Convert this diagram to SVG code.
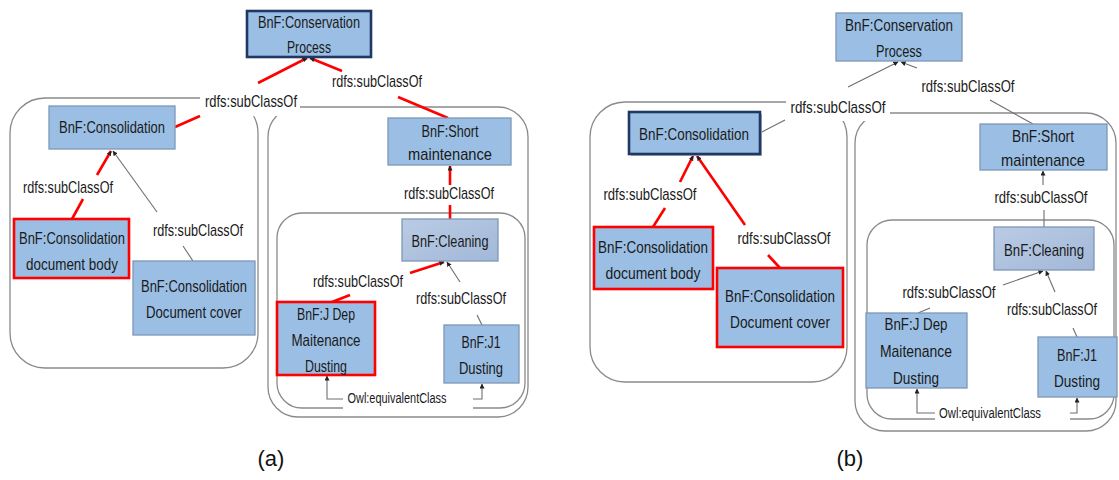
<svg xmlns="http://www.w3.org/2000/svg" width="1119" height="480" viewBox="0 0 1119 480">
<style>
.box{fill:#9BBFE4;stroke:#7F97B6;stroke-width:1.3}
.clean{fill:url(#cg);stroke:#7F97B6;stroke-width:1.3}
.hl{stroke:#FF0000;stroke-width:2.6}
.navy{stroke:#1F3864;stroke-width:2.6}
.t{font-family:"Liberation Sans",Arial,sans-serif;font-size:17px;fill:#1A1A1A;text-anchor:middle}
.s{font-size:14px}
.cap{font-family:"Liberation Sans",Arial,sans-serif;font-size:22px;fill:#111;text-anchor:middle}
.cont{fill:none;stroke:#8A8A8A;stroke-width:1.3}
.g{fill:none;stroke:#6E6E6E;stroke-width:1.1}
.r{fill:none;stroke:#FF0000;stroke-width:2.6}
.bg{fill:#FFFFFF}
</style>
<defs>
<linearGradient id="cg" x1="0" y1="0" x2="1" y2="1">
<stop offset="0" stop-color="#BACBE4"/>
<stop offset="1" stop-color="#A2B8D8"/>
</linearGradient>
<marker id="ah" viewBox="0 0 6 6" refX="5.5" refY="3" markerWidth="5" markerHeight="5" markerUnits="userSpaceOnUse" orient="auto">
<path d="M0,0 L6,3 L0,6 z" fill="#222"/>
</marker>
</defs>
<rect width="1119" height="480" fill="#FFFFFF"/>

<g id="containers">
<rect class="cont" x="10" y="98" width="248" height="270" rx="35"/>
<rect class="cont" x="268" y="107" width="260" height="310" rx="30"/>
<rect class="cont" x="277" y="213" width="248" height="195" rx="25"/>
<rect class="cont" x="590" y="102" width="257" height="280" rx="35"/>
<rect class="cont" x="855" y="113" width="261" height="318" rx="30"/>
<rect class="cont" x="867" y="220" width="247" height="199" rx="25"/>
<rect class="bg" x="200" y="88" width="100" height="28"/>
<rect class="bg" x="343" y="389" width="130" height="22"/>
<rect class="bg" x="786" y="94" width="104" height="27"/>
<rect class="bg" x="935" y="403" width="135" height="22"/>
</g>

<g id="connectors">
<line class="r" x1="258" y1="83" x2="307" y2="58" marker-end="url(#ah)"/>
<line class="r" x1="342" y1="71" x2="310" y2="58" marker-end="url(#ah)"/>
<line class="r" x1="398" y1="97" x2="448" y2="118"/>
<line class="r" x1="200" y1="116" x2="175" y2="127"/>
<line class="r" x1="97" y1="175" x2="111" y2="151" marker-end="url(#ah)"/>
<line class="r" x1="83" y1="199" x2="72" y2="219"/>
<line class="g" x1="157" y1="212" x2="113" y2="151" marker-end="url(#ah)"/>
<line class="g" x1="183" y1="246" x2="193" y2="261"/>
<line class="r" x1="450" y1="185" x2="450" y2="166" marker-end="url(#ah)"/>
<line class="r" x1="450" y1="205" x2="450" y2="219"/>
<line class="r" x1="410" y1="273" x2="444" y2="262" marker-end="url(#ah)"/>
<line class="r" x1="350" y1="295" x2="332" y2="302"/>
<line class="g" x1="460" y1="282" x2="447" y2="262" marker-end="url(#ah)"/>
<line class="g" x1="477" y1="315" x2="482" y2="325"/>
<polyline class="g" points="343,399 327,399 327,376" marker-end="url(#ah)"/>
<polyline class="g" points="473,399 482,399 482,384" marker-end="url(#ah)"/>

<line class="g" x1="848" y1="87" x2="898" y2="62" marker-end="url(#ah)"/>
<line class="g" x1="917" y1="68" x2="901" y2="62" marker-end="url(#ah)"/>
<line class="g" x1="990" y1="100" x2="1033" y2="124"/>
<line class="g" x1="785" y1="120" x2="760" y2="133"/>
<line class="r" x1="680" y1="182" x2="693" y2="156" marker-end="url(#ah)"/>
<line class="r" x1="745" y1="225" x2="697" y2="156" marker-end="url(#ah)"/>
<line class="r" x1="665" y1="208" x2="653" y2="227"/>
<line class="r" x1="768" y1="255" x2="780" y2="268"/>
<line class="g" x1="1043" y1="185" x2="1043" y2="171" marker-end="url(#ah)"/>
<line class="g" x1="1044" y1="210" x2="1044" y2="227"/>
<line class="g" x1="1003" y1="285" x2="1043" y2="271" marker-end="url(#ah)"/>
<line class="g" x1="930" y1="308" x2="918" y2="313"/>
<line class="g" x1="1055" y1="292" x2="1046" y2="271" marker-end="url(#ah)"/>
<line class="g" x1="1073" y1="328" x2="1077" y2="337"/>
<polyline class="g" points="935,413 917,413 917,389" marker-end="url(#ah)"/>
<polyline class="g" points="1070,413 1077,413 1077,398" marker-end="url(#ah)"/>
</g>

<g id="labels">
<text class="t" x="251" y="107" textLength="92" lengthAdjust="spacingAndGlyphs">rdfs:subClassOf</text>
<text class="t" x="377" y="87" textLength="90" lengthAdjust="spacingAndGlyphs">rdfs:subClassOf</text>
<text class="t" x="68" y="193" textLength="90" lengthAdjust="spacingAndGlyphs">rdfs:subClassOf</text>
<text class="t" x="198" y="236" textLength="90" lengthAdjust="spacingAndGlyphs">rdfs:subClassOf</text>
<text class="t" x="449" y="199" textLength="90" lengthAdjust="spacingAndGlyphs">rdfs:subClassOf</text>
<text class="t" x="358" y="287" textLength="90" lengthAdjust="spacingAndGlyphs">rdfs:subClassOf</text>
<text class="t" x="461" y="304" textLength="90" lengthAdjust="spacingAndGlyphs">rdfs:subClassOf</text>
<text class="t s" x="397" y="403" textLength="99" lengthAdjust="spacingAndGlyphs">Owl:equivalentClass</text>

<text class="t" x="838" y="113" textLength="95" lengthAdjust="spacingAndGlyphs">rdfs:subClassOf</text>
<text class="t" x="968" y="92" textLength="93" lengthAdjust="spacingAndGlyphs">rdfs:subClassOf</text>
<text class="t" x="650" y="200" textLength="93" lengthAdjust="spacingAndGlyphs">rdfs:subClassOf</text>
<text class="t" x="784" y="244" textLength="93" lengthAdjust="spacingAndGlyphs">rdfs:subClassOf</text>
<text class="t" x="1041" y="203" textLength="93" lengthAdjust="spacingAndGlyphs">rdfs:subClassOf</text>
<text class="t" x="949" y="298" textLength="93" lengthAdjust="spacingAndGlyphs">rdfs:subClassOf</text>
<text class="t" x="1052" y="315" font-size="16" textLength="90" lengthAdjust="spacingAndGlyphs">rdfs:subClassOf</text>
<text class="t s" x="990" y="418" textLength="102" lengthAdjust="spacingAndGlyphs">Owl:equivalentClass</text>
</g>

<g id="a-conservation"><rect class="box navy" x="247" y="11" width="124" height="46"/><text class="t" x="309" y="28" textLength="102" lengthAdjust="spacingAndGlyphs">BnF:Conservation</text><text class="t" x="309" y="53" textLength="44" lengthAdjust="spacingAndGlyphs">Process</text></g>
<g id="a-consolidation"><rect class="box" x="49" y="106" width="126" height="43"/><text class="t" x="112" y="133" textLength="106" lengthAdjust="spacingAndGlyphs">BnF:Consolidation</text></g>
<g id="a-docbody"><rect class="box hl" x="14" y="219" width="115" height="59"/><text class="t" x="72" y="244" textLength="106" lengthAdjust="spacingAndGlyphs">BnF:Consolidation</text><text class="t" x="72" y="270" textLength="92" lengthAdjust="spacingAndGlyphs">document body</text></g>
<g id="a-doccover"><rect class="box" x="133" y="261" width="122" height="74"/><text class="t" x="194" y="292" textLength="106" lengthAdjust="spacingAndGlyphs">BnF:Consolidation</text><text class="t" x="194" y="318" textLength="96" lengthAdjust="spacingAndGlyphs">Document cover</text></g>
<g id="a-short"><rect class="box" x="388" y="118" width="123" height="47"/><text class="t" x="450" y="137" textLength="57" lengthAdjust="spacingAndGlyphs">BnF:Short</text><text class="t" x="450" y="160" textLength="84" lengthAdjust="spacingAndGlyphs">maintenance</text></g>
<g id="a-cleaning"><rect class="clean" x="402" y="219" width="96" height="42"/><text class="t" x="450" y="247" textLength="77" lengthAdjust="spacingAndGlyphs">BnF:Cleaning</text></g>
<g id="a-jdep"><rect class="box hl" x="277" y="302" width="98" height="73"/><text class="t" x="326" y="320" textLength="58" lengthAdjust="spacingAndGlyphs">BnF:J Dep</text><text class="t" x="326" y="346" textLength="69" lengthAdjust="spacingAndGlyphs">Maitenance</text><text class="t" x="326" y="372" textLength="42" lengthAdjust="spacingAndGlyphs">Dusting</text></g>
<g id="a-j1"><rect class="box" x="444" y="325" width="75" height="58"/><text class="t" x="481" y="348" textLength="39" lengthAdjust="spacingAndGlyphs">BnF:J1</text><text class="t" x="481" y="374" textLength="44" lengthAdjust="spacingAndGlyphs">Dusting</text></g>

<g id="b-conservation"><rect class="box" x="836" y="13" width="126" height="48"/><text class="t" x="899" y="31" textLength="108" lengthAdjust="spacingAndGlyphs">BnF:Conservation</text><text class="t" x="899" y="57" textLength="46" lengthAdjust="spacingAndGlyphs">Process</text></g>
<g id="b-consolidation"><rect x="631" y="114" width="131" height="42" fill="#B0B7C2"/><rect class="box navy" x="629" y="112" width="131" height="42"/><text class="t" x="694" y="140" textLength="110" lengthAdjust="spacingAndGlyphs">BnF:Consolidation</text></g>
<g id="b-docbody"><rect class="box hl" x="594" y="227" width="119" height="62"/><text class="t" x="653" y="253" textLength="110" lengthAdjust="spacingAndGlyphs">BnF:Consolidation</text><text class="t" x="653" y="279" textLength="95" lengthAdjust="spacingAndGlyphs">document body</text></g>
<g id="b-doccover"><rect class="box hl" x="717" y="268" width="126" height="79"/><text class="t" x="780" y="302" textLength="110" lengthAdjust="spacingAndGlyphs">BnF:Consolidation</text><text class="t" x="780" y="328" textLength="100" lengthAdjust="spacingAndGlyphs">Document cover</text></g>
<g id="b-short"><rect class="box" x="980" y="124" width="127" height="46"/><text class="t" x="1043" y="142" textLength="62" lengthAdjust="spacingAndGlyphs">BnF:Short</text><text class="t" x="1043" y="166" textLength="84" lengthAdjust="spacingAndGlyphs">maintenance</text></g>
<g id="b-cleaning"><rect class="clean" x="994" y="227" width="100" height="43"/><text class="t" x="1044" y="256" textLength="80" lengthAdjust="spacingAndGlyphs">BnF:Cleaning</text></g>
<g id="b-jdep"><rect class="box" x="866" y="313" width="101" height="75"/><text class="t" x="916" y="330" textLength="63" lengthAdjust="spacingAndGlyphs">BnF:J Dep</text><text class="t" x="916" y="357" textLength="72" lengthAdjust="spacingAndGlyphs">Maitenance</text><text class="t" x="916" y="384" textLength="46" lengthAdjust="spacingAndGlyphs">Dusting</text></g>
<g id="b-j1"><rect class="box" x="1038" y="337" width="79" height="60"/><text class="t" x="1077" y="361" textLength="40" lengthAdjust="spacingAndGlyphs">BnF:J1</text><text class="t" x="1077" y="387" textLength="46" lengthAdjust="spacingAndGlyphs">Dusting</text></g>

<g id="captions">
<text class="cap" x="271" y="466">(a)</text>
<text class="cap" x="850" y="466">(b)</text>
</g>
</svg>
